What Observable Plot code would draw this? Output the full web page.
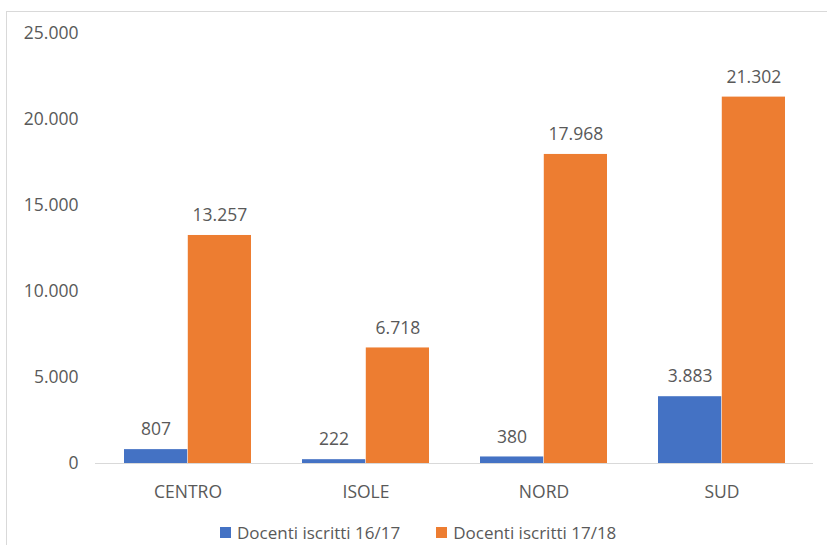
<!DOCTYPE html>
<html>
<head>
<meta charset="utf-8">
<script src="https://cdn.jsdelivr.net/npm/d3@7"></script>
<script src="https://cdn.jsdelivr.net/npm/@observablehq/plot@0.6"></script>
<style>
  html, body { margin: 0; padding: 0; background: #fff; }
  body { width: 827px; height: 545px; position: relative; overflow: hidden; font-family: "Open Sans", sans-serif; }
  #frame { position: absolute; left: 6px; top: 11px; width: 830px; height: 545px; border: 1px solid #d9d9d9; box-sizing: border-box; }
  #chart { position: absolute; left: 0; top: 0; }
  #legend { position: absolute; left: 220px; top: 521px; height: 23px; line-height: 23px; display: flex; align-items: center; font-size: 17px; color: #595959; white-space: nowrap; }
  #legend .item { display: flex; align-items: center; margin-right: 36px; height: 23px; }
  #legend .sw { width: 11px; height: 11px; margin-right: 6px; }
</style>
</head>
<body>
<div id="frame"></div>
<div id="chart"></div>
<div id="legend"></div>
<script>
const regions = ["CENTRO", "ISOLE", "NORD", "SUD"];
const series = ["Docenti iscritti 16/17", "Docenti iscritti 17/18"];
const values1617 = [807, 222, 380, 3883];
const values1718 = [13257, 6718, 17968, 21302];
const yTicks = [0, 5000, 10000, 15000, 20000, 25000];
const colors = ["#4472C4", "#ED7D31"];

const it = d3.formatLocale({decimal: ",", thousands: ".", grouping: [3], currency: ["€", ""]});
const fmt = it.format(",d");

const d1 = regions.map((r, i) => ({region: r, series: series[0], value: values1617[i]}));
const d2 = regions.map((r, i) => ({region: r, series: series[1], value: values1718[i]}));

const W = 827, H = 500, ML = 95, MR = 14, MT = 33, MB = 37;
const pIn = 0.287, pOut = 0.15;
const step = (W - ML - MR) / (regions.length - pIn + 2 * pOut);
const bw = step * (1 - pIn);
const half = bw / 2;

const plot = Plot.plot({
  width: W, height: H,
  marginLeft: ML, marginRight: MR, marginTop: MT, marginBottom: MB,
  style: {fontFamily: "Open Sans, sans-serif", fontSize: "17.5px", color: "#595959", background: "transparent", overflow: "visible"},
  x: {domain: regions, paddingInner: pIn, paddingOuter: pOut, label: null, tickSize: 0, tickPadding: 22},
  y: {domain: [0, 25000], ticks: yTicks, tickFormat: fmt, label: null, tickSize: 0, tickPadding: 17},
  color: {domain: series, range: colors},
  marks: [
    Plot.barY(d1, {x: "region", y: "value", fill: "series", insetRight: half}),
    Plot.barY(d2, {x: "region", y: "value", fill: "series", insetLeft: half}),
    Plot.ruleY([0], {stroke: "#d9d9d9", strokeWidth: 1.2}),
    Plot.text(d1, {x: "region", y: "value", text: d => fmt(d.value), dx: -half / 2, dy: -20, fill: "#595959", fontSize: 17.5}),
    Plot.text(d2, {x: "region", y: "value", text: d => fmt(d.value), dx: half / 2, dy: -20, fill: "#595959", fontSize: 17.5})
  ]
});
document.getElementById("chart").appendChild(plot);

const legend = document.getElementById("legend");
series.forEach((s, i) => {
  const item = document.createElement("div");
  item.className = "item";
  const sw = document.createElement("span");
  sw.className = "sw";
  sw.style.background = colors[i];
  const t = document.createElement("span");
  t.textContent = s;
  item.appendChild(sw);
  item.appendChild(t);
  legend.appendChild(item);
});
</script>
</body>
</html>
